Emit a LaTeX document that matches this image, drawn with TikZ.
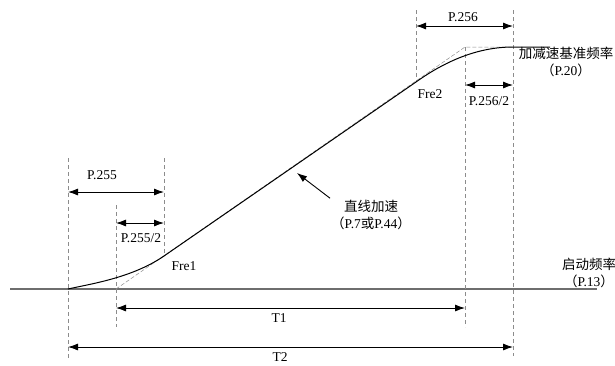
\documentclass[tikz,border=0pt]{standalone}
\usepackage{fontspec}
\setmainfont{Liberation Serif}
\newfontfamily\cjk{Noto Sans CJK SC}
\usetikzlibrary{arrows.meta,positioning,calc}
\definecolor{axisgray}{HTML}{6E6E6E}
\definecolor{guidegray}{HTML}{8C8C8C}
\tikzset{
  guide/.style={draw=guidegray, line width=0.6pt, dash pattern=on 4pt off 3pt},
  ramp/.style={draw=guidegray, line width=0.5pt, dash pattern=on 4pt off 2pt},
  dimarr/.style={{Latex[length=10pt,width=7pt]}-{Latex[length=10pt,width=7pt]}, line width=0.9pt},
  lbl/.style={font=\fontsize{13.5}{15}\selectfont, inner sep=1pt},
  cjklbl/.style={font=\fontsize{13.5}{16.5}\selectfont, align=center, inner sep=1pt},
}
\begin{document}
\begin{tikzpicture}[x=1pt, y=-1pt]
    \useasboundingbox (0,0) rectangle (615,365);
    % key points of the curve
    \coordinate (s0) at (68,289);
    \coordinate (a1) at (116,289);
    \coordinate (f1) at (164,256);
    \coordinate (f2) at (416,82);
    \coordinate (a2) at (465,47);
    \coordinate (s1) at (513,47);
    \coordinate (e1) at (550,47);
    % base line
    \coordinate (b0) at (10,289);
    \coordinate (b1) at (597,289);
    \draw[axisgray, line width=1.2pt] (b0) -- (b1);
    % guide lines
    \draw[guide] (68,158) coordinate (g1t) -- (68,360) coordinate (g1b);
    \draw[guide] (116,205) coordinate (g2t) -- (116,327) coordinate (g2b);
    \draw[guide] (164,158) coordinate (g3t) -- (f1);
    \draw[guide] (416,10) coordinate (g4t) -- (f2);
    \draw[guide] (465,47) coordinate (g5t) -- (465,327) coordinate (g5b);
    \draw[guide] (513,10) coordinate (g6t) -- (513,356) coordinate (g6b);
    % linear ramp
    \draw[ramp] (a1) -- (a2) -- (s1);
    % s-curve
    \draw[line width=1pt] (s0) .. controls (90,284) and (132,278) .. (f1)
        -- (f2) .. controls ($(f2)!2/3!(a2)$) and ($(s1)!2/3!(a2)$) .. (s1) -- (e1);
    % dimensions
    \draw[dimarr] (68,192) coordinate (d1a) -- (164,192) coordinate (d1b);
    \draw[dimarr] (116,223) coordinate (d2a) -- (164,223) coordinate (d2b);
    \draw[dimarr] (416,26) coordinate (d3a) -- (513,26) coordinate (d3b);
    \draw[dimarr] (465,85) coordinate (d4a) -- (513,85) coordinate (d4b);
    \draw[dimarr] (116,308) coordinate (t1a) -- (465,308) coordinate (t1b);
    \draw[dimarr] (68,347) coordinate (t2a) -- (513,347) coordinate (t2b);
    % labels
    \node[lbl] (p255) at (102,175) {P.255};
    \node[lbl] (p255h) at (141,238) {P.255/2};
    \node[lbl] (fre1) at (184,266) {Fre1};
    \node[lbl] (p256) at (463,17) {P.256};
    \node[lbl] (p256h) at (489,101) {P.256/2};
    \node[lbl] (fre2) at (430,94) {Fre2};
    \node[lbl] (t1) at (279,318) {T1};
    \node[lbl] (t2) at (280,357) {T2};
    \node[cjklbl] (ref) at (566,62) {{\cjk 加减速基准频率}\\{\cjk （}P.20{\cjk ）}};
    \node[cjklbl] (lin) at (371,215) {{\cjk 直线加速}\\{\cjk （}P.7{\cjk 或}P.44{\cjk ）}};
    \node[cjklbl] (start) at (589,273) {{\cjk 启动频率}\\{\cjk （}P.13{\cjk ）}};
    % pointer
    \coordinate (ptr) at (297,173);
    \draw[-{Latex[length=10pt,width=7pt]}, line width=0.9pt] (lin.north west) ++(0,-1) coordinate (ptrt) -- (ptr);
\end{tikzpicture}
\end{document}
